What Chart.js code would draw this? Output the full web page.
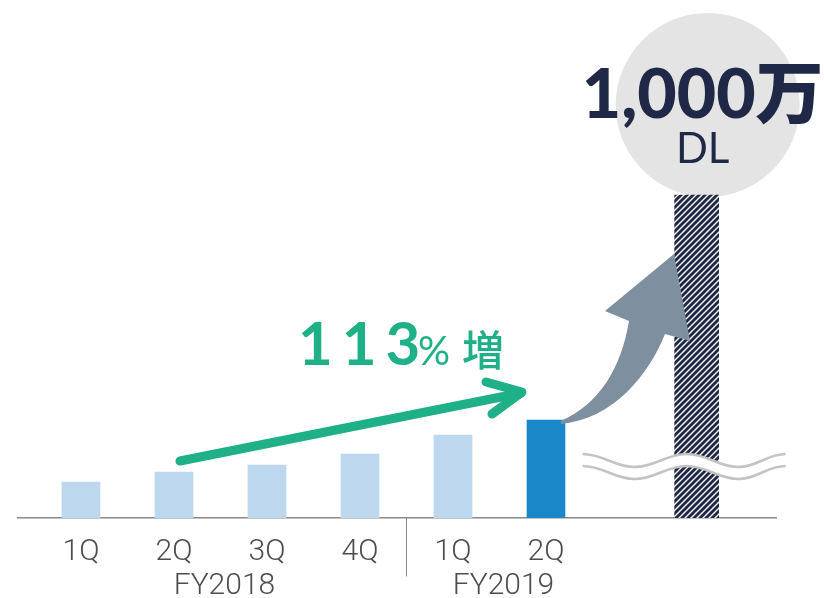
<!DOCTYPE html>
<html>
<head>
<meta charset="utf-8">
<script src="https://cdn.jsdelivr.net/npm/chart.js@4.4.0/dist/chart.umd.min.js"></script>
<style>
  html, body { margin: 0; background: #fff; }
  #wrap { width: 824px; height: 598px; position: relative; }
</style>
</head>
<body>
<div id="wrap"><canvas id="chart"></canvas></div>
<script>
// Quarterly downloads (relative bar heights) and the goal bar
const quarterLabels = ['1Q', '2Q', '3Q', '4Q', '1Q', '2Q'];
const fiscalYears = ['FY2018', 'FY2019'];
const yearOfQuarter = [0, 0, 0, 0, 1, 1];
const downloads = [36, 46, 53, 64, 83, 98];
const goalPosition = [6.62];
const goalHeight = [323]; // axis is broken, so this height is nominal
const goalText = '1,000万';
const goalUnit = 'DL';
const growthText = '113';

const LIGHT = '#bdd7ee';
const DARK = '#1a87c9';
const NAVY = '#1f2846';
const GREEN = '#1fb087';
const GREY_ARROW = '#7e909f';
const LABEL = '#4d4d4d';

function makeStripes() {
    const c = document.createElement('canvas');
    c.width = 6; c.height = 6;
    const g = c.getContext('2d');
    g.fillStyle = '#fff';
    g.fillRect(0, 0, 6, 6);
    g.strokeStyle = NAVY;
    g.lineWidth = 2.9;
    g.beginPath();
    g.moveTo(-1, 7); g.lineTo(7, -1);
    g.moveTo(-1, 1); g.lineTo(1, -1);
    g.moveTo(5, 7); g.lineTo(7, 5);
    g.stroke();
    return g.createPattern(c, 'repeat');
}

// wave from x0 to x1 starting at a crest, with given half period
function wavePoints(x0, x1, yTop, amp, half) {
    const pts = [];
    let x = x0, up = true;
    while (x < x1 - 1) {
        pts.push([x, up ? yTop : yTop + amp]);
        x = Math.min(x + half, x1);
        up = !up;
    }
    pts.push([x1, up ? yTop : yTop + amp]);
    return pts;
}

function traceWave(ctx, pts, reverse) {
    const p = reverse ? pts.slice().reverse() : pts;
    for (let i = 1; i < p.length; i++) {
        const [ax, ay] = p[i - 1], [bx, by] = p[i];
        const d = (bx - ax) * 0.4;
        ctx.bezierCurveTo(ax + d, ay, bx - d, by, bx, by);
    }
}

const decorations = {
    id: 'decorations',
    beforeDatasetsDraw(chart) {
        const ctx = chart.ctx;
        const goal = chart.getDatasetMeta(1).data[0];
        ctx.save();
        ctx.fillStyle = '#e4e4e4';
        ctx.beginPath();
        ctx.arc(goal.x + 11, goal.y - 90, 92, 0, Math.PI * 2);
        ctx.fill();
        ctx.restore();
    },
    afterDatasetsDraw(chart) {
        const ctx = chart.ctx;
        const xs = chart.scales.x;
        const bottom = chart.chartArea.bottom;
        const bars = chart.getDatasetMeta(0).data;
        const goal = chart.getDatasetMeta(1).data[0];
        ctx.save();

        // break marks across the goal bar
        const upper = wavePoints(goal.x - 114, goal.x + 89, bottom - 64, 13, 52);
        const lower = upper.map(([x, y]) => [x, y + 12]);
        ctx.beginPath();
        ctx.moveTo(upper[0][0], upper[0][1]);
        traceWave(ctx, upper, false);
        ctx.lineTo(lower[lower.length - 1][0], lower[lower.length - 1][1]);
        traceWave(ctx, lower, true);
        ctx.closePath();
        ctx.fillStyle = '#fff';
        ctx.fill();
        ctx.strokeStyle = '#c3c3c3';
        ctx.lineWidth = 2.5;
        [upper, lower].forEach(w => {
            ctx.beginPath();
            ctx.moveTo(w[0][0], w[0][1]);
            traceWave(ctx, w, false);
            ctx.stroke();
        });

        // curved grey arrow from the latest bar towards the goal
        const last = bars[bars.length - 1];
        const bx = last.x, by = last.y;
        ctx.fillStyle = GREY_ARROW;
        ctx.beginPath();
        ctx.moveTo(bx + 15, by + 1);
        ctx.bezierCurveTo(bx + 53, by - 16, bx + 75, by - 51, bx + 83, by - 99);
        ctx.lineTo(bx + 59, by - 109);
        ctx.lineTo(bx + 128, by - 166);
        ctx.lineTo(bx + 144, by - 79);
        ctx.lineTo(bx + 119, by - 86);
        ctx.bezierCurveTo(bx + 103, by - 46, bx + 68, by - 1, bx + 15, by + 4);
        ctx.closePath();
        ctx.fill();

        // green growth arrow from 2Q FY2018 to 2Q FY2019
        const from = bars[1];
        const sx = from.x + 6, sy = from.y - 11;
        const ex = last.x - 22, ey = last.y - 28;
        ctx.strokeStyle = GREEN;
        ctx.lineWidth = 9;
        ctx.lineCap = 'round';
        ctx.lineJoin = 'round';
        ctx.beginPath();
        ctx.moveTo(sx, sy);
        ctx.lineTo(ex - 3, ey + 1);
        ctx.stroke();
        ctx.beginPath();
        ctx.moveTo(ex - 38, ey - 10);
        ctx.lineTo(ex - 2, ey);
        ctx.lineTo(ex - 32, ey + 22);
        ctx.stroke();

        ctx.fillStyle = GREEN;
        ctx.textBaseline = 'alphabetic';
        ctx.textAlign = 'left';
        ctx.font = '700 60px Lato, "Noto Sans"';
        ctx.letterSpacing = '9px';
        ctx.fillText(growthText, 298, 365);
        ctx.letterSpacing = '0px';
        ctx.font = '400 40px Lato, "Noto Sans"';
        ctx.fillText('%', 418, 365);
        ctx.font = '500 42px "Noto Sans CJK JP"';
        ctx.fillText('増', 462, 366);

        // goal label inside the circle
        ctx.fillStyle = NAVY;
        ctx.textAlign = 'center';
        ctx.font = '900 68px Lato, "Noto Sans CJK JP"';
        ctx.fillText(goalText, goal.x + 6, goal.y - 77);
        ctx.font = '400 42px Lato, "Noto Sans"';
        ctx.fillText(goalUnit, goal.x + 6, goal.y - 32);

        // fiscal year separator and group labels
        const sepX = xs.getPixelForValue(3.5);
        ctx.strokeStyle = '#8a8a8a';
        ctx.lineWidth = 1;
        ctx.beginPath();
        ctx.moveTo(sepX, bottom);
        ctx.lineTo(sepX, bottom + 58);
        ctx.stroke();

        ctx.fillStyle = LABEL;
        ctx.font = '300 30px Roboto';
        fiscalYears.forEach((fy, k) => {
            const idx = yearOfQuarter.map((y, i) => y === k ? i : -1).filter(i => i >= 0);
            const mid = idx.reduce((a, b) => a + b, 0) / idx.length;
            ctx.fillText(fy, xs.getPixelForValue(mid) + 4, bottom + 76);
        });
        ctx.restore();
    }
};

const stripes = makeStripes();

new Chart(document.getElementById('chart'), {
    type: 'bar',
    data: {
        datasets: [{
            data: downloads.map((v, i) => ({ x: i, y: v })),
            backgroundColor: downloads.map((v, i) => i === downloads.length - 1 ? DARK : LIGHT),
            barThickness: 38,
            grouped: false
        }, {
            data: goalPosition.map((p, i) => ({ x: p, y: goalHeight[i] })),
            backgroundColor: stripes,
            barThickness: 44,
            grouped: false
        }]
    },
    plugins: [decorations],
    options: {
        responsive: true,
        maintainAspectRatio: false,
        animation: false,
        layout: { padding: { left: 18, right: 48, top: 0, bottom: 0 } },
        plugins: { legend: { display: false }, tooltip: { enabled: false } },
        scales: {
            x: {
                type: 'linear',
                offset: false,
                min: -0.677,
                max: 7.473,
                grid: { display: false },
                border: { display: true, color: '#8a8a8a', width: 1.5 },
                afterBuildTicks(scale) {
                    scale.ticks = quarterLabels.map((_, i) => ({ value: i }));
                },
                afterFit(scale) { scale.height = 80; },
                ticks: {
                    padding: 8,
                    color: LABEL,
                    font: { family: 'Roboto', weight: 300, size: 30 },
                    callback: (v) => quarterLabels[v] || ''
                }
            },
            y: { display: false, min: 0, max: 518 }
        }
    }
});
</script>
</body>
</html>
